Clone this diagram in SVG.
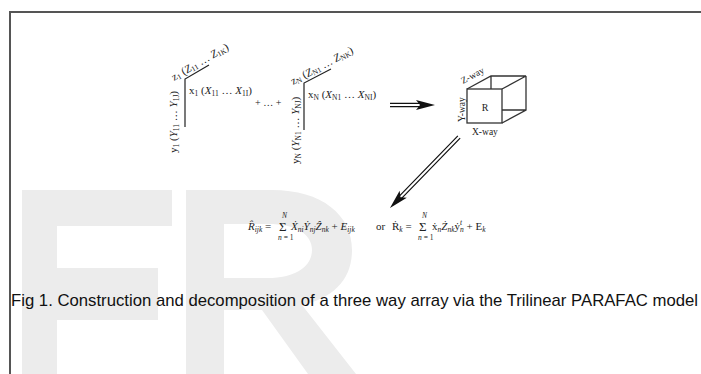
<svg xmlns="http://www.w3.org/2000/svg" width="701" height="374" viewBox="0 0 701 374">
  <style>
    .serif { font-family: "Liberation Serif", "DejaVu Serif", serif; fill: #222; }
    .lbl { font-size: 11px; }
    .sm { font-size: 10px; }
    .eq { font-size: 11px; }
    .sub { font-size: 7.5px; }
    .it { font-style: italic; }
    .line { fill: none; stroke: #222; stroke-width: 1.2; }
    .cap { font-family: "Liberation Sans", Arial, sans-serif; font-size: 17px; fill: #111; }
    .mark { fill: #ececec; }
  </style>
  <rect width="701" height="374" fill="#ffffff"/>

  <!-- faint background lettering -->
  <g id="watermark">
    <path class="mark" d="M22,190 H172 V226 H57 V268 H158 V320 H57 V374 H22 Z"/>
    <path class="mark" d="M186,190 H272 C322,190 352,215 352,250 C352,280 333,298 302,305 L356,374 H308 L262,310 H224 V374 H186 Z M224,224 V278 H268 C296,278 312,266 312,250 C312,234 296,224 268,224 Z" fill-rule="evenodd"/>
  </g>

  <!-- frame -->
  <path d="M10,374 V12 H701" fill="none" stroke="#555" stroke-width="2"/>

  <!-- first loading set -->
  <g id="set-1">
    <path class="line" d="M185,127 V79 L209,65"/>
    <text class="serif lbl" x="189" y="94">x<tspan class="sub" dy="2">1</tspan><tspan dy="-2"> (</tspan><tspan class="it">X</tspan><tspan class="sub" dy="2">11</tspan><tspan dy="-2"> … </tspan><tspan class="it">X</tspan><tspan class="sub" dy="2">1I</tspan><tspan dy="-2">)</tspan></text>
    <text class="serif lbl" transform="translate(174,81) rotate(-30)">z<tspan class="sub" dy="1.5">1</tspan><tspan dy="-1.5"> (</tspan><tspan class="it">Z</tspan><tspan class="sub" dy="1.5">11</tspan><tspan dy="-1.5"> … </tspan><tspan class="it">Z</tspan><tspan class="sub" dy="1.5">1K</tspan><tspan dy="-1.5">)</tspan></text>
    <text class="serif lbl" transform="translate(177,153) rotate(-90)">y<tspan class="sub" dy="2">1</tspan><tspan dy="-2"> (</tspan><tspan class="it">Y</tspan><tspan class="sub" dy="2">11</tspan><tspan dy="-2"> … </tspan><tspan class="it">Y</tspan><tspan class="sub" dy="2">1J</tspan><tspan dy="-2">)</tspan></text>
  </g>

  <g id="plus">
    <text class="serif sm" x="255" y="106">+ … +</text>
  </g>

  <!-- last loading set -->
  <g id="set-N">
    <path class="line" d="M304,130 V83 L331,69"/>
    <text class="serif lbl" x="308" y="98">x<tspan class="sub" dy="2">N</tspan><tspan dy="-2"> (</tspan><tspan class="it">X</tspan><tspan class="sub" dy="2">N1</tspan><tspan dy="-2"> … </tspan><tspan class="it">X</tspan><tspan class="sub" dy="2">NI</tspan><tspan dy="-2">)</tspan></text>
    <text class="serif lbl" transform="translate(293,85) rotate(-28)">z<tspan class="sub" dy="1.5">N</tspan><tspan dy="-1.5"> (</tspan><tspan class="it">Z</tspan><tspan class="sub" dy="1.5">N1</tspan><tspan dy="-1.5"> … </tspan><tspan class="it">Z</tspan><tspan class="sub" dy="1.5">NK</tspan><tspan dy="-1.5">)</tspan></text>
    <text class="serif lbl" transform="translate(299,164) rotate(-90)">y<tspan class="sub" dy="2">N</tspan><tspan dy="-2"> (</tspan><tspan class="it">Y</tspan><tspan class="sub" dy="2">N1</tspan><tspan dy="-2"> … </tspan><tspan class="it">Y</tspan><tspan class="sub" dy="2">NJ</tspan><tspan dy="-2">)</tspan></text>
  </g>

  <!-- three-way array cube -->
  <g id="cube">
    <rect x="467" y="89" width="35" height="34" fill="#fff" stroke="#333" stroke-width="1.3"/>
    <path d="M467,89 L491,76 H526 L502,89 M526,76 V110 L502,123 M491,76 V89 M502,110 H526" fill="none" stroke="#333" stroke-width="1.3"/>
    <text class="serif sm" x="485" y="111" text-anchor="middle">R</text>
    <text class="serif" font-size="9.5" transform="translate(463,84) rotate(-28)">Z-way</text>
    <text class="serif" font-size="9.5" transform="translate(465,122) rotate(-90)">Y-way</text>
    <text class="serif" font-size="9.5" x="472" y="135">X-way</text>
  </g>

  <!-- model equations -->
  <g id="equations">
    <text class="serif eq it" x="248" y="230">R̂<tspan class="sub" dy="2">ijk</tspan><tspan dy="-2" font-style="normal"> =</tspan></text>
    <text class="serif" font-size="13" x="279" y="231">Σ</text>
    <text class="serif sub it" x="282" y="218">N</text>
    <text class="serif sub" x="278" y="240"><tspan font-style="italic">n</tspan> = 1</text>
    <text class="serif eq it" x="291" y="230">Ẋ<tspan class="sub" dy="2">ni</tspan><tspan dy="-2">Ẏ</tspan><tspan class="sub" dy="2">nj</tspan><tspan dy="-2">Ẑ</tspan><tspan class="sub" dy="2">nk</tspan><tspan dy="-2" font-style="normal">  + </tspan><tspan>E</tspan><tspan class="sub" dy="2">ijk</tspan></text>
    <text class="serif eq" x="376" y="230">or</text>
    <text class="serif eq" x="392" y="230">Ṙ<tspan class="sub it" dy="2">k</tspan><tspan dy="-2"> =</tspan></text>
    <text class="serif" font-size="13" x="419" y="231">Σ</text>
    <text class="serif sub it" x="422" y="218">N</text>
    <text class="serif sub" x="418" y="240"><tspan font-style="italic">n</tspan> = 1</text>
    <text class="serif eq" x="432" y="230">ẋ<tspan class="sub it" dy="2">n</tspan><tspan dy="-2" font-style="italic">Ż</tspan><tspan class="sub it" dy="2">nk</tspan><tspan dy="-2">ẏ</tspan><tspan class="sub it" dy="-5">t</tspan><tspan class="sub it" dx="-2" dy="7">n</tspan><tspan dy="-2"> + E</tspan><tspan class="sub it" dy="2">k</tspan></text>
  </g>

  <!-- connectors -->
  <g id="connectors" fill="#111" stroke="#111">
    <g transform="translate(390,105)">
      <path d="M0,-1.6 H30 M0,1.6 H30" stroke-width="1.2"/>
      <polygon points="26,-5 45,0 26,5 30,0" stroke="none"/>
    </g>
    <g transform="translate(459,137) rotate(134.2)">
      <path d="M0,-1.6 H84 M0,1.6 H84" stroke-width="1.2"/>
      <polygon points="80,-5 99,0 80,5 84,0" stroke="none"/>
    </g>
  </g>

  <text id="caption" class="cap" x="11" y="306" textLength="687" lengthAdjust="spacingAndGlyphs">Fig 1. Construction and decomposition of a three way array via the Trilinear PARAFAC model</text>
</svg>
